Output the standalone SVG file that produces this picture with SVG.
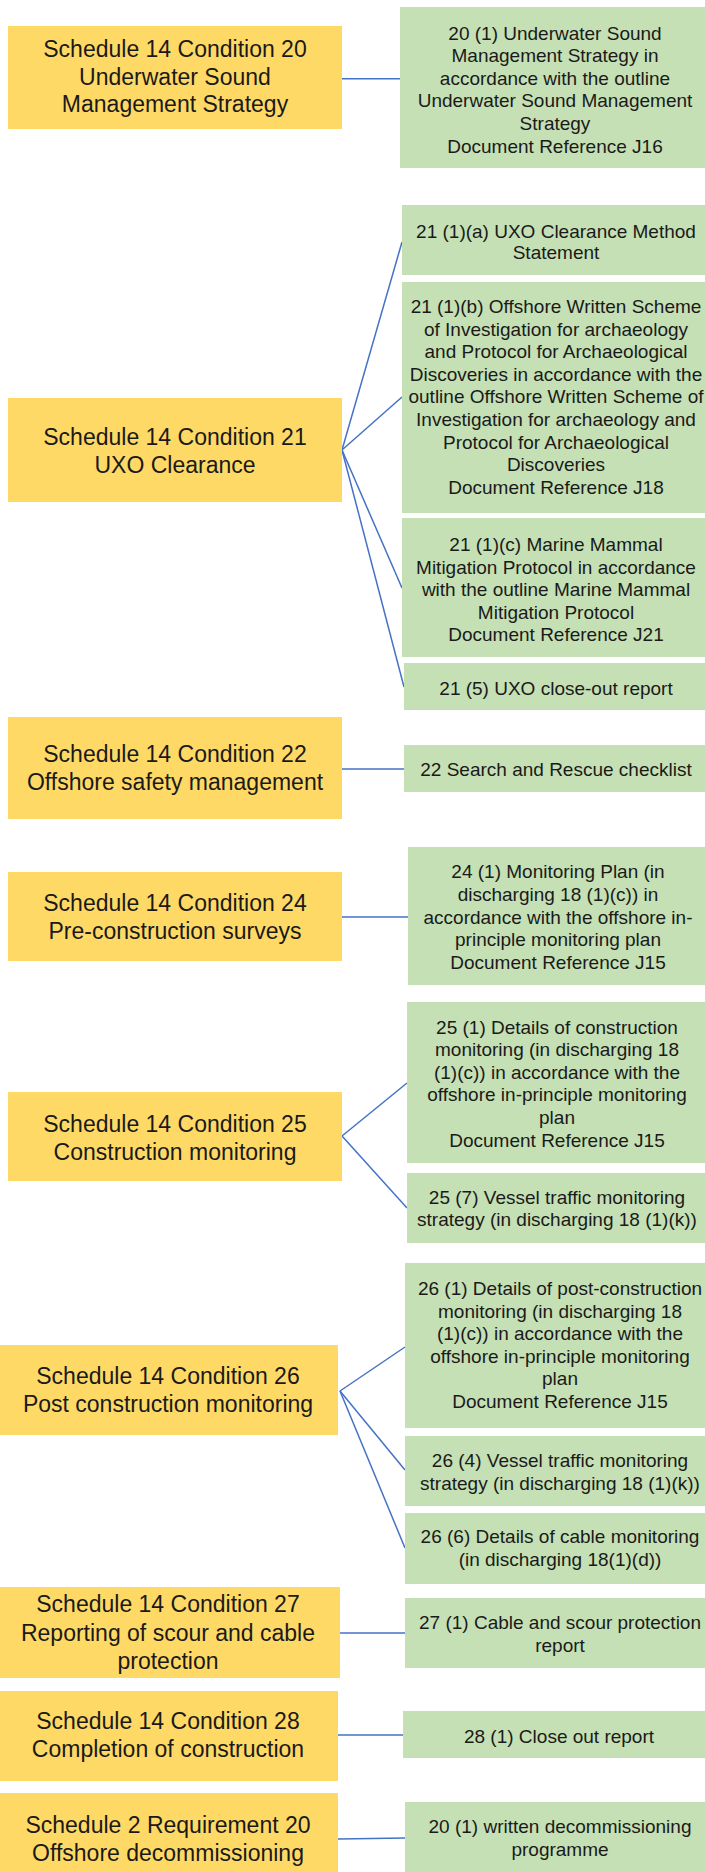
<svg xmlns="http://www.w3.org/2000/svg" width="705" height="1872" viewBox="0 0 705 1872">
<style>
.y{fill:#FFD966}
.g{fill:#C5E0B4}
.ty{font-family:"Liberation Sans",Arial,sans-serif;font-size:23px;fill:#1a1a1a;text-anchor:middle}
.tg{font-family:"Liberation Sans",Arial,sans-serif;font-size:19px;fill:#1a1a1a;text-anchor:middle}
.c{stroke:#4472C4;stroke-width:1.5;fill:none}
</style>
<rect width="705" height="1872" fill="#ffffff"/>
<g id="connectors">
<line class="c" x1="342" y1="78.7" x2="400" y2="78.7"/>
<line class="c" x1="342" y1="450" x2="402" y2="242"/>
<line class="c" x1="342" y1="450" x2="402" y2="397"/>
<line class="c" x1="342" y1="450" x2="402" y2="588"/>
<line class="c" x1="342" y1="450" x2="404" y2="687"/>
<line class="c" x1="342" y1="769" x2="404" y2="769"/>
<line class="c" x1="342" y1="917" x2="408" y2="917"/>
<line class="c" x1="342" y1="1136" x2="407" y2="1083"/>
<line class="c" x1="342" y1="1136" x2="407" y2="1208"/>
<line class="c" x1="340" y1="1391" x2="405" y2="1347"/>
<line class="c" x1="340" y1="1391" x2="405" y2="1470"/>
<line class="c" x1="340" y1="1391" x2="405" y2="1548"/>
<line class="c" x1="340" y1="1633" x2="405" y2="1633"/>
<line class="c" x1="338" y1="1735" x2="403" y2="1735"/>
<line class="c" x1="338" y1="1839" x2="405" y2="1838"/>
</g>
<g id="y1"><rect class="y" x="8" y="26" width="334" height="103"/>
<text class="ty" x="175" y="57">Schedule 14 Condition 20</text>
<text class="ty" x="175" y="84.5">Underwater Sound</text>
<text class="ty" x="175" y="112">Management Strategy</text></g>
<g id="g1"><rect class="g" x="400" y="7" width="305" height="161"/>
<text class="tg" x="555" y="39.5">20 (1) Underwater Sound</text>
<text class="tg" x="555" y="62.1">Management Strategy in</text>
<text class="tg" x="555" y="84.7">accordance with the outline</text>
<text class="tg" x="555" y="107.3">Underwater Sound Management</text>
<text class="tg" x="555" y="129.9">Strategy</text>
<text class="tg" x="555" y="152.5">Document Reference J16</text></g>
<g id="y2"><rect class="y" x="8" y="398" width="334" height="104"/>
<text class="ty" x="175" y="445">Schedule 14 Condition 21</text>
<text class="ty" x="175" y="473">UXO Clearance</text></g>
<g id="g2a"><rect class="g" x="402" y="205" width="303" height="70"/>
<text class="tg" x="556" y="237.5">21 (1)(a) UXO Clearance Method</text>
<text class="tg" x="556" y="259">Statement</text></g>
<g id="g2b"><rect class="g" x="402" y="282" width="303" height="231"/>
<text class="tg" x="556" y="313">21 (1)(b) Offshore Written Scheme</text>
<text class="tg" x="556" y="335.6">of Investigation for archaeology</text>
<text class="tg" x="556" y="358.2">and Protocol for Archaeological</text>
<text class="tg" x="556" y="380.8">Discoveries in accordance with the</text>
<text class="tg" x="556" y="403.4">outline Offshore Written Scheme of</text>
<text class="tg" x="556" y="426">Investigation for archaeology and</text>
<text class="tg" x="556" y="448.6">Protocol for Archaeological</text>
<text class="tg" x="556" y="471.2">Discoveries</text>
<text class="tg" x="556" y="493.8">Document Reference J18</text></g>
<g id="g2c"><rect class="g" x="402" y="518" width="303" height="139"/>
<text class="tg" x="556" y="551">21 (1)(c) Marine Mammal</text>
<text class="tg" x="556" y="573.6">Mitigation Protocol in accordance</text>
<text class="tg" x="556" y="596.2">with the outline Marine Mammal</text>
<text class="tg" x="556" y="618.8">Mitigation Protocol</text>
<text class="tg" x="556" y="641.4">Document Reference J21</text></g>
<g id="g2d"><rect class="g" x="404" y="663" width="301" height="47"/>
<text class="tg" x="556" y="694.6">21 (5) UXO close-out report</text></g>
<g id="y3"><rect class="y" x="8" y="717" width="334" height="102"/>
<text class="ty" x="175" y="762">Schedule 14 Condition 22</text>
<text class="ty" x="175" y="790">Offshore safety management</text></g>
<g id="g3"><rect class="g" x="404" y="745" width="301" height="47"/>
<text class="tg" x="556" y="775.6">22 Search and Rescue checklist</text></g>
<g id="y4"><rect class="y" x="8" y="872" width="334" height="89"/>
<text class="ty" x="175" y="911">Schedule 14 Condition 24</text>
<text class="ty" x="175" y="939">Pre-construction surveys</text></g>
<g id="g4"><rect class="g" x="408" y="847" width="297" height="138"/>
<text class="tg" x="558" y="878.3">24 (1) Monitoring Plan (in</text>
<text class="tg" x="558" y="900.9">discharging 18 (1)(c)) in</text>
<text class="tg" x="558" y="923.5">accordance with the offshore in-</text>
<text class="tg" x="558" y="946.1">principle monitoring plan</text>
<text class="tg" x="558" y="968.7">Document Reference J15</text></g>
<g id="y5"><rect class="y" x="8" y="1092" width="334" height="89"/>
<text class="ty" x="175" y="1131.5">Schedule 14 Condition 25</text>
<text class="ty" x="175" y="1159.5">Construction monitoring</text></g>
<g id="g5a"><rect class="g" x="407" y="1002" width="298" height="161"/>
<text class="tg" x="557" y="1033.6">25 (1) Details of construction</text>
<text class="tg" x="557" y="1056.2">monitoring (in discharging 18</text>
<text class="tg" x="557" y="1078.8">(1)(c)) in accordance with the</text>
<text class="tg" x="557" y="1101.4">offshore in-principle monitoring</text>
<text class="tg" x="557" y="1124">plan</text>
<text class="tg" x="557" y="1146.6">Document Reference J15</text></g>
<g id="g5b"><rect class="g" x="407" y="1173" width="298" height="70"/>
<text class="tg" x="557" y="1204">25 (7) Vessel traffic monitoring</text>
<text class="tg" x="557" y="1226">strategy (in discharging 18 (1)(k))</text></g>
<g id="y6"><rect class="y" x="0" y="1345" width="338" height="90"/>
<text class="ty" x="168" y="1384">Schedule 14 Condition 26</text>
<text class="ty" x="168" y="1412">Post construction monitoring</text></g>
<g id="g6a"><rect class="g" x="405" y="1263" width="300" height="165"/>
<text class="tg" x="560" y="1295">26 (1) Details of post-construction</text>
<text class="tg" x="560" y="1317.6">monitoring (in discharging 18</text>
<text class="tg" x="560" y="1340.2">(1)(c)) in accordance with the</text>
<text class="tg" x="560" y="1362.8">offshore in-principle monitoring</text>
<text class="tg" x="560" y="1385.4">plan</text>
<text class="tg" x="560" y="1408">Document Reference J15</text></g>
<g id="g6b"><rect class="g" x="405" y="1436" width="300" height="70"/>
<text class="tg" x="560" y="1467.3">26 (4) Vessel traffic monitoring</text>
<text class="tg" x="560" y="1489.6">strategy (in discharging 18 (1)(k))</text></g>
<g id="g6c"><rect class="g" x="405" y="1513" width="300" height="71"/>
<text class="tg" x="560" y="1543.3">26 (6) Details of cable monitoring</text>
<text class="tg" x="560" y="1565.6">(in discharging 18(1)(d))</text></g>
<g id="y7"><rect class="y" x="0" y="1587" width="340" height="91"/>
<text class="ty" x="168" y="1612">Schedule 14 Condition 27</text>
<text class="ty" x="168" y="1640.5">Reporting of scour and cable</text>
<text class="ty" x="168" y="1669">protection</text></g>
<g id="g7"><rect class="g" x="405" y="1598" width="300" height="70"/>
<text class="tg" x="560" y="1628.6">27 (1) Cable and scour protection</text>
<text class="tg" x="560" y="1651.6">report</text></g>
<g id="y8"><rect class="y" x="0" y="1691" width="338" height="90"/>
<text class="ty" x="168" y="1729">Schedule 14 Condition 28</text>
<text class="ty" x="168" y="1757">Completion of construction</text></g>
<g id="g8"><rect class="g" x="403" y="1711" width="302" height="47"/>
<text class="tg" x="559" y="1743.3">28 (1) Close out report</text></g>
<g id="y9"><rect class="y" x="0" y="1793" width="338" height="79"/>
<text class="ty" x="168" y="1833">Schedule 2 Requirement 20</text>
<text class="ty" x="168" y="1861">Offshore decommissioning</text></g>
<g id="g9"><rect class="g" x="405" y="1802" width="300" height="70"/>
<text class="tg" x="560" y="1833.3">20 (1) written decommissioning</text>
<text class="tg" x="560" y="1855.6">programme</text></g>
</svg>
